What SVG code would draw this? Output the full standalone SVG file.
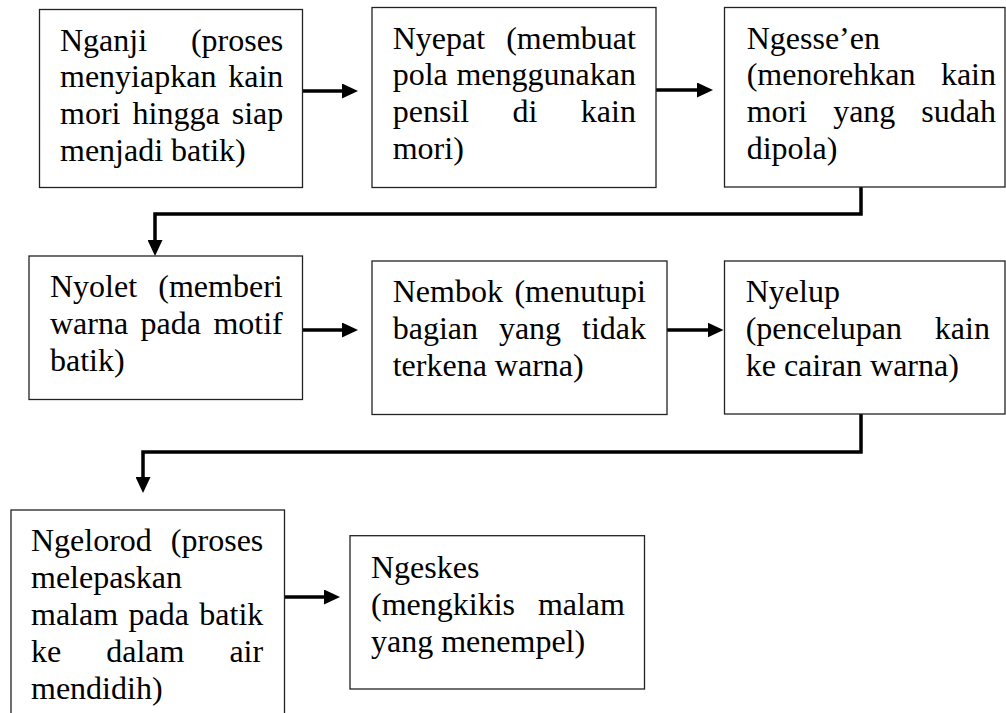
<svg xmlns="http://www.w3.org/2000/svg" width="1006" height="713" viewBox="0 0 1006 713">
<style>
.box{fill:#fff;stroke:#222;stroke-width:1.3}
.t{font-family:"Liberation Serif","Times New Roman",serif;font-size:32px;fill:#000}
.c{fill:none;stroke:#000;stroke-width:3.5}
</style>
<defs>
<marker id="ah" markerUnits="userSpaceOnUse" markerWidth="16" markerHeight="15" refX="8" refY="7.5" orient="auto">
<path d="M0,0 L16,7.5 L0,15 z" fill="#000"/>
</marker>
</defs>
<rect width="1006" height="713" fill="#fff"/>
<g id="connectors">
<path class="c" d="M302.5,91 H350" marker-end="url(#ah)"/>
<path class="c" d="M656,90 H705" marker-end="url(#ah)"/>
<path class="c" d="M861,187 V214 H155 V248" marker-end="url(#ah)"/>
<path class="c" d="M302.5,330 H350" marker-end="url(#ah)"/>
<path class="c" d="M667,330 H715.5" marker-end="url(#ah)"/>
<path class="c" d="M861,414 V452 H143 V485" marker-end="url(#ah)"/>
<path class="c" d="M284.5,597 H332" marker-end="url(#ah)"/>
</g>
<g id="n1">
<rect class="box" x="39.5" y="9.5" width="263" height="178"/>
<text class="t" y="50.5"><tspan x="60" word-spacing="35.8">Nganji (proses</tspan></text>
<text class="t" y="87.4"><tspan x="60" word-spacing="3.8">menyiapkan kain</tspan></text>
<text class="t" y="124.3"><tspan x="60" word-spacing="4.1">mori hingga siap</tspan></text>
<text class="t" x="60" y="161.2">menjadi batik)</text>
</g>
<g id="n2">
<rect class="box" x="372" y="7.5" width="284" height="180"/>
<text class="t" x="392.7" y="48.5" word-spacing="13.1">Nyepat (membuat</text>
<text class="t" x="392.7" y="85.4" word-spacing="0.7">pola menggunakan</text>
<text class="t" x="392.7" y="122.3" word-spacing="35.4">pensil di kain</text>
<text class="t" x="392.7" y="159.2">mori)</text>
</g>
<g id="n3">
<rect class="box" x="724.5" y="7.5" width="280.5" height="179.5"/>
<text class="t" x="746.7" y="48.5">Ngesse’en</text>
<text class="t" x="746.7" y="85.4" word-spacing="17.4">(menorehkan kain</text>
<text class="t" x="746.7" y="122.3" word-spacing="18">mori yang sudah</text>
<text class="t" x="746.7" y="159.2">dipola)</text>
</g>
<g id="n4">
<rect class="box" x="29" y="256" width="273.5" height="143.5"/>
<text class="t" x="50" y="297.2" word-spacing="13.2">Nyolet (memberi</text>
<text class="t" x="50" y="334.1" word-spacing="4.4">warna pada motif</text>
<text class="t" x="50" y="371">batik)</text>
</g>
<g id="n5">
<rect class="box" x="372" y="261" width="295" height="153.5"/>
<text class="t" x="392.7" y="302.2" word-spacing="3.5">Nembok (menutupi</text>
<text class="t" x="392.7" y="339.1" word-spacing="12.9">bagian yang tidak</text>
<text class="t" x="392.7" y="376">terkena warna)</text>
</g>
<g id="n6">
<rect class="box" x="724.5" y="261" width="280.5" height="153"/>
<text class="t" x="745.7" y="302.2">Nyelup</text>
<text class="t" x="745.7" y="339.1" word-spacing="24.8">(pencelupan kain</text>
<text class="t" x="745.7" y="376">ke cairan warna)</text>
</g>
<g id="n7">
<rect class="box" x="11" y="510" width="273.5" height="210"/>
<text class="t" x="31" y="551.2" word-spacing="11">Ngelorod (proses</text>
<text class="t" x="31" y="588.1">melepaskan</text>
<text class="t" x="31" y="625" word-spacing="2.4">malam pada batik</text>
<text class="t" x="31" y="661.9" word-spacing="37">ke dalam air</text>
<text class="t" x="31" y="698.8">mendidih)</text>
</g>
<g id="n8">
<rect class="box" x="350" y="535.7" width="294.5" height="153.3"/>
<text class="t" x="371" y="577.8">Ngeskes</text>
<text class="t" x="371" y="614.7" word-spacing="14.9">(mengkikis malam</text>
<text class="t" x="371" y="651.6">yang menempel)</text>
</g>
</svg>
